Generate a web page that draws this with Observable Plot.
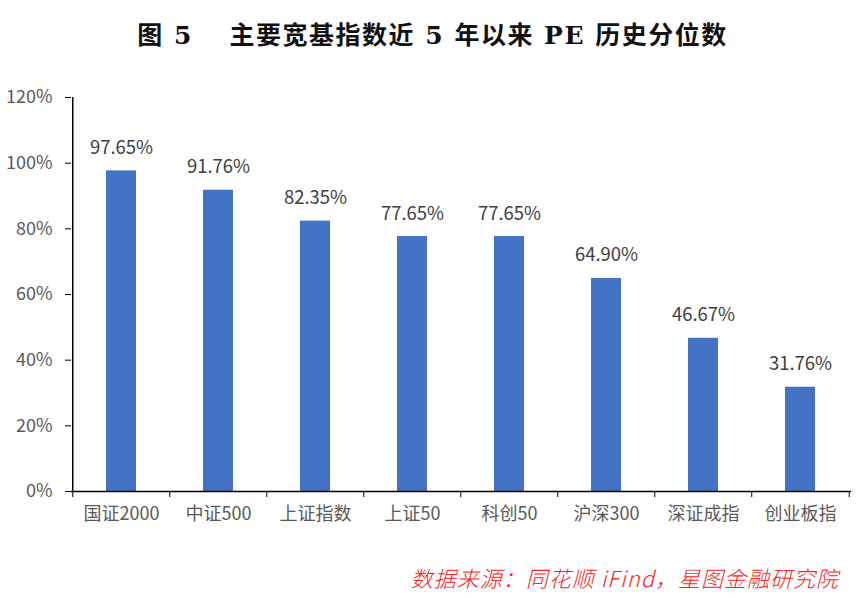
<!DOCTYPE html>
<html>
<head>
<meta charset="utf-8">
<script src="https://cdn.jsdelivr.net/npm/d3@7"></script>
<script src="https://cdn.jsdelivr.net/npm/@observablehq/plot@0.6"></script>
<style>
  html, body { margin: 0; padding: 0; background: #fff; }
  #wrap { position: relative; width: 865px; height: 601px; overflow: hidden; }
  #title { position: absolute; left: 0; top: 15px; width: 865px; text-align: center;
    font-family: "DejaVu Serif", "Noto Sans CJK SC", serif; font-weight: bold;
    font-size: 25px; letter-spacing: 1.5px; color: #111; white-space: pre; }
  #chart { position: absolute; left: 0; top: 70px; }
  #source { position: absolute; right: 26px; top: 561px; color: #ff2020; font-style: italic;
    font-family: "Noto Sans CJK SC", sans-serif; font-weight: 300; font-size: 22px; letter-spacing: 1px; white-space: pre; }
</style>
</head>
<body>
<div id="wrap">
  <div id="title">图 5　 主要宽基指数近 5 年以来 PE 历史分位数</div>
  <div id="chart"></div>
  <div id="source">数据来源：同花顺 iFind，星图金融研究院</div>
</div>
<script>
const categories = ["国证2000", "中证500", "上证指数", "上证50", "科创50", "沪深300", "深证成指", "创业板指"];
const values = [0.9765, 0.9176, 0.8235, 0.7765, 0.7765, 0.6490, 0.4667, 0.3176];
const yTicks = [0, 0.2, 0.4, 0.6, 0.8, 1.0, 1.2];

const data = categories.map((c, i) => ({category: c, value: values[i]}));

const W = 865, H = 480;
const mL = 71, mR = 14, mT = 27, mB = 59;
const step = (W - mL - mR) / categories.length;
const font = "'Noto Sans CJK SC', sans-serif";
const pct = d => Math.round(d * 100) + "%";

const chart = Plot.plot({
  width: W,
  height: H,
  marginLeft: mL,
  marginRight: mR,
  marginTop: mT,
  marginBottom: mB,
  style: {fontFamily: font, fontSize: "18px", color: "#000", background: "#fff"},
  x: {domain: categories, paddingInner: 0.69, paddingOuter: 0.345, label: null},
  y: {domain: [0, 1.2], label: null},
  marks: [
    Plot.barY(data, {x: "category", y: "value", fill: "#4472C4"}),
    Plot.axisY(yTicks, {tickSize: 6, tickFormat: () => "", color: "#000", label: null}),
    Plot.axisY(yTicks, {tickSize: 0, tickPadding: 19, tickFormat: pct, color: "#595959", fontSize: 18, label: null}),
    Plot.axisX({tickSize: 0, tickPadding: 16, color: "#595959", fontSize: 18, label: null}),
    Plot.ruleX(categories.slice(0, 1), {x: d => d, dx: -step / 2, stroke: "#000", strokeWidth: 1.5}),
    Plot.ruleY([0], {stroke: "#000", strokeWidth: 1.5}),
    Plot.ruleX(categories, {x: d => d, y1: 0, y2: 0, insetBottom: -6, dx: -step / 2, stroke: "#000"}),
    Plot.ruleX(categories.slice(-1), {x: d => d, y1: 0, y2: 0, insetBottom: -6, dx: step / 2, stroke: "#000"}),
    Plot.text(data, {x: "category", y: "value", text: d => (d.value * 100).toFixed(2) + "%", lineAnchor: "bottom", dy: -17, fill: "#404040", fontSize: 18.5})
  ]
});
document.getElementById("chart").appendChild(chart);
</script>
</body>
</html>
